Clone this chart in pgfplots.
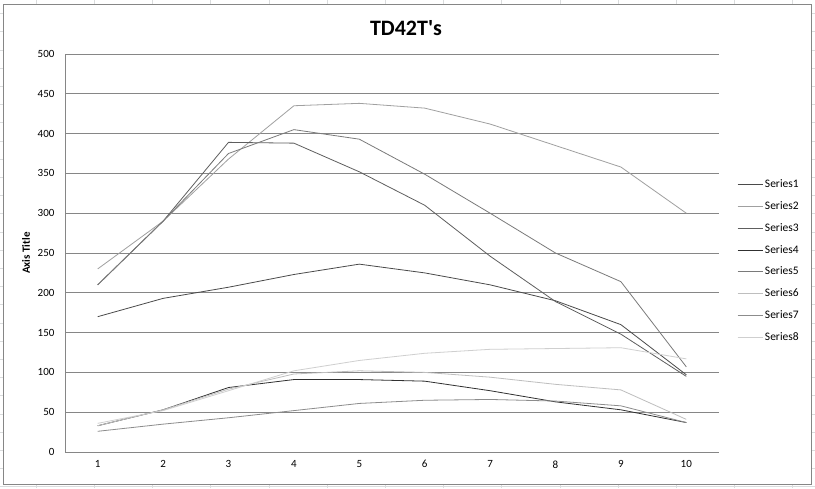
\documentclass[border=0pt]{standalone}
\usepackage{pgfplots}
\pgfplotsset{compat=1.18}
\usepackage{fontspec}
\setmainfont{Carlito}

\definecolor{gridgray}{HTML}{868686}
\definecolor{sheetgrid}{HTML}{DADCDD}
\definecolor{sA}{HTML}{4A4A4A}
\definecolor{sB}{HTML}{A0A0A0}
\definecolor{sC}{HTML}{5E5E5E}
\definecolor{sD}{HTML}{303030}
\definecolor{sE}{HTML}{7A7A7A}
\definecolor{sF}{HTML}{BEBEBE}
\definecolor{sG}{HTML}{8C8C8C}
\definecolor{sH}{HTML}{CFCFCF}

\begin{document}
\begin{tikzpicture}[x=1pt,y=1pt]
\useasboundingbox (0,0) rectangle (815,488);
% spreadsheet cells behind the chart
\foreach \c in {36,94.2,152.4,210.6,268.8,327,385.2,443.4,501.6,559.8,618,676.2,734.4,792.6}
  \draw[sheetgrid,line width=0.6pt] (\c,0) -- (\c,488);
\foreach \r in {0,...,26}
  \draw[sheetgrid,line width=0.6pt] (0,{488-13.5-18.2*\r}) -- (815,{488-13.5-18.2*\r});
% chart area
\fill[white] (3.5,4) rectangle (811.5,484);
\draw[gridgray,line width=0.8pt] (3.5,4) rectangle (811.5,484);
\node[font=\bfseries\fontsize{22}{26}\selectfont] at (406,460) {TD42T\textquotesingle s};

\begin{axis}[
    at={(65pt,36pt)}, anchor=south west,
    scale only axis,
    width=654pt, height=398pt,
    xmin=0.5, xmax=10.5,
    ymin=0, ymax=500,
    xtick={1,...,10},
    ytick={0,50,...,500},
    major tick length=0pt,
    axis x line*=bottom,
    axis y line*=left,
    axis line style={gridgray, line width=0.8pt},
    ymajorgrids,
    grid style={gridgray, line width=0.8pt},
    tick label style={font=\fontsize{11}{13}\selectfont},
    /pgf/number format/assume math mode=true,
    yticklabel style={xshift=-7pt},
    xticklabel style={yshift=-5pt},
    ylabel={Axis Title},
    ylabel style={font=\bfseries\fontsize{11}{13}\selectfont,
        at={(axis description cs:-0.0596,0.5)}, anchor=center},
    legend style={at={(1.0275,0.48)}, anchor=west, draw=none, fill=none,
        inner sep=0pt, row sep=11.8pt,
        font=\fontsize{11.5}{13}\selectfont,
        nodes={inner sep=0pt, inner xsep=2pt, text height=8pt, text depth=2pt}},
    legend cell align=left,
    legend image code/.code={\draw[#1] (0pt,0pt) -- (25pt,0pt);},
    every axis plot/.append style={line width=0.8pt},
]

\addplot[color=sA] coordinates {
    (1,170) (2,193) (3,207) (4,223) (5,236) (6,225) (7,210) (8,190) (9,160) (10,97)
};
\addplot[color=sB] coordinates {
    (1,230) (2,290) (3,368) (4,435) (5,438) (6,432) (7,412) (8,385) (9,358) (10,300)
};
\addplot[color=sC] coordinates {
    (1,210) (2,290) (3,389) (4,388) (5,352) (6,310) (7,246) (8,189) (9,148) (10,95)
};
\addplot[color=sD] coordinates {
    (1,33) (2,53) (3,81) (4,91) (5,91) (6,89) (7,77) (8,63) (9,53) (10,37)
};
\addplot[color=sE] coordinates {
    (1,210) (2,290) (3,375) (4,405) (5,393) (6,349) (7,300) (8,250) (9,214) (10,107)
};
\addplot[color=sF] coordinates {
    (1,33) (2,53) (3,79) (4,98) (5,102) (6,100) (7,94) (8,85) (9,78) (10,41)
};
\addplot[color=sG] coordinates {
    (1,26) (2,35) (3,43) (4,52) (5,61) (6,65) (7,66) (8,64) (9,58) (10,37)
};
\addplot[color=sH] coordinates {
    (1,36) (2,52) (3,77) (4,102) (5,115) (6,124) (7,129) (8,130) (9,131) (10,117)
};

\legend{Series1,Series2,Series3,Series4,Series5,Series6,Series7,Series8}
\end{axis}
\end{tikzpicture}
\end{document}
